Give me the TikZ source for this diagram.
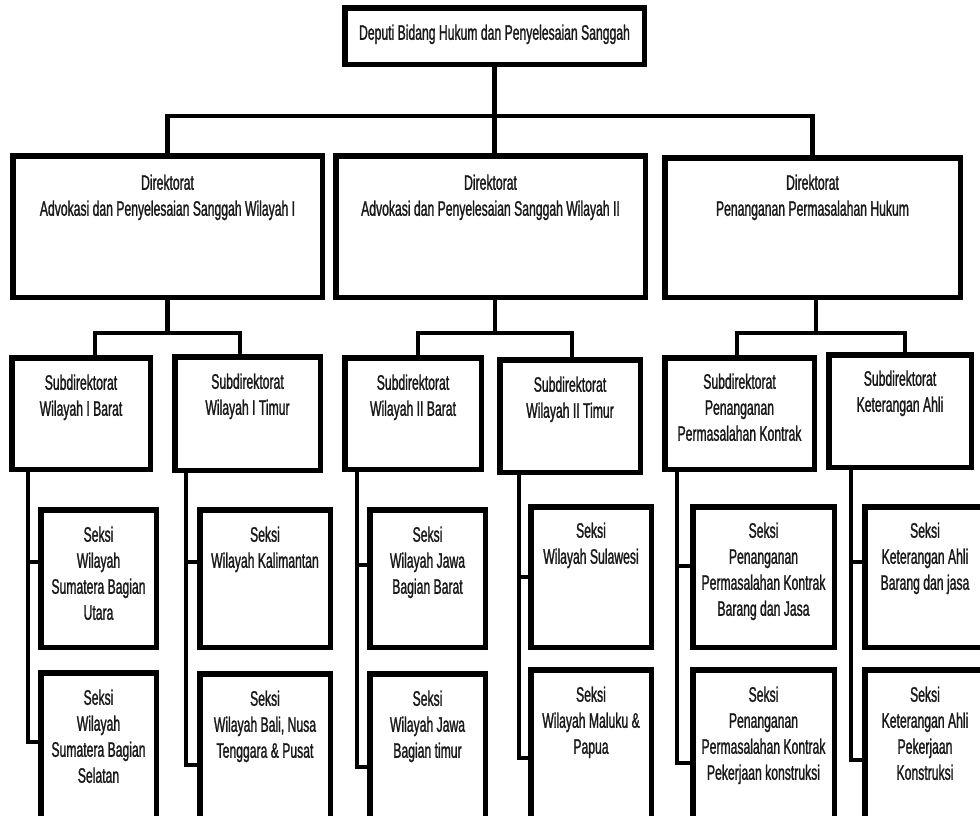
\documentclass[tikz,border=0pt]{standalone}
\usepackage{fontspec}
\setmainfont[FakeStretch=0.58,FakeBold=1.2]{Liberation Sans}
\tikzset{
  box/.style={draw=black, line width=5.5pt, fill=white, inner sep=0pt,
    font=\fontsize{21}{26}\selectfont, text=black!90},
  conn/.style={line width=4.5pt, line join=miter, draw=black},
}
% name, x1, y1, x2, y2, strut, text
\newcommand\orgbox[7]{%
  \node[box] (#1) at ({(#2+#4)/2},{(#3+#5)/2})
    {\parbox[c][\dimexpr#5pt-#3pt-5.5pt\relax][t]{\dimexpr#4pt-#2pt-5.5pt\relax}{\centering\rule{0pt}{#6pt}#7}};}
\begin{document}
\begin{tikzpicture}[x=1pt,y=-1pt]
\useasboundingbox[fill=white] (0,0) rectangle (980,815);

% boxes
\orgbox{top}{342}{5}{647}{67}{32}{Deputi Bidang Hukum dan Penyelesaian Sanggah}
\orgbox{d1}{10}{153}{325}{300}{34}{Direktorat\\Advokasi dan Penyelesaian Sanggah Wilayah I}
\orgbox{d2}{333}{153}{648}{300}{34}{Direktorat\\Advokasi dan Penyelesaian Sanggah Wilayah II}
\orgbox{d3}{662}{155}{963}{300}{32}{Direktorat\\Penanganan Permasalahan Hukum}

\orgbox{s1}{9}{355}{153}{472}{32}{Subdirektorat\\Wilayah I Barat}
\orgbox{s2}{172}{354}{323}{473}{32}{Subdirektorat\\Wilayah I Timur}
\orgbox{s3}{342}{355}{484}{472}{32}{Subdirektorat\\Wilayah II Barat}
\orgbox{s4}{497}{357}{643}{475}{32}{Subdirektorat\\Wilayah II Timur}
\orgbox{s5}{662}{355}{817}{472}{31}{Subdirektorat\\Penanganan\\Permasalahan Kontrak}
\orgbox{s6}{826}{352}{974}{470}{31}{Subdirektorat\\Keterangan Ahli}

\orgbox{k1a}{38}{507}{159}{650}{32}{Seksi\\Wilayah\\Sumatera Bagian\\Utara}
\orgbox{k1b}{38}{670}{159}{822}{32}{Seksi\\Wilayah\\Sumatera Bagian\\Selatan}
\orgbox{k2a}{197}{507}{333}{650}{32}{Seksi\\Wilayah Kalimantan}
\orgbox{k2b}{197}{671}{333}{822}{32}{Seksi\\Wilayah Bali, Nusa\\Tenggara \& Pusat}
\orgbox{k3a}{367}{507}{488}{650}{32}{Seksi\\Wilayah Jawa\\Bagian Barat}
\orgbox{k3b}{367}{671}{488}{822}{32}{Seksi\\Wilayah Jawa\\Bagian timur}
\orgbox{k4a}{528}{504}{654}{650}{31}{Seksi\\Wilayah Sulawesi}
\orgbox{k4b}{528}{667}{654}{822}{32}{Seksi\\Wilayah Maluku \&\\Papua}
\orgbox{k5a}{690}{504}{837}{650}{31}{Seksi\\Penanganan\\Permasalahan Kontrak\\Barang dan Jasa}
\orgbox{k5b}{690}{667}{837}{822}{32}{Seksi\\Penanganan\\Permasalahan Kontrak\\Pekerjaan konstruksi}
\orgbox{k6a}{862}{504}{988}{650}{31}{Seksi\\Keterangan Ahli\\Barang dan jasa}
\orgbox{k6b}{862}{667}{988}{822}{32}{Seksi\\Keterangan Ahli\\Pekerjaan\\Konstruksi}

% top level connectors
\draw[conn] (top.south) -- (top.south |- d2.north);
\draw[conn] (d1.north) -- (d1.north |- 0,116) -- (d3.north |- 0,116) -- (d3.north);

% director -> subdirectorates
\draw[conn] (d1.south) -- (d1.south |- 0,333);
\draw[conn] ([xshift=14pt]s1.north) |- (d1.south |- 0,333) -| ([xshift=-7.5pt]s2.north);
\draw[conn] ([xshift=4.5pt]d2.south) -- ([xshift=4.5pt]d2.south |- 0,333);
\draw[conn] ([xshift=5pt]s3.north) |- ([xshift=4.5pt]d2.south |- 0,333) -| ([xshift=2pt]s4.north);
\draw[conn] ([xshift=3.5pt]d3.south) -- ([xshift=3.5pt]d3.south |- 0,333);
\draw[conn] ([xshift=-2.5pt]s5.north) |- ([xshift=3.5pt]d3.south |- 0,333) -| ([xshift=5pt]s6.north);

% subdirectorates -> sections
\draw[conn] (28,0 |- s1.south) |- (k1b.west |- 0,742);
\draw[conn] (28,562) -- (k1a.west |- 0,562);
\draw[conn] (186,0 |- s2.south) |- (k2b.west |- 0,765);
\draw[conn] (186,562) -- (k2a.west |- 0,562);
\draw[conn] (357,0 |- s3.south) |- (k3b.west |- 0,767);
\draw[conn] (357,565) -- (k3a.west |- 0,565);
\draw[conn] (519,0 |- s4.south) |- (k4b.west |- 0,758);
\draw[conn] (519,577) -- (k4a.west |- 0,577);
\draw[conn] (677,0 |- s5.south) |- (k5b.west |- 0,763);
\draw[conn] (677,566) -- (k5a.west |- 0,566);
\draw[conn] (851,0 |- s6.south) |- (k6b.west |- 0,760);
\draw[conn] (851,562) -- (k6a.west |- 0,562);
\end{tikzpicture}
\end{document}
